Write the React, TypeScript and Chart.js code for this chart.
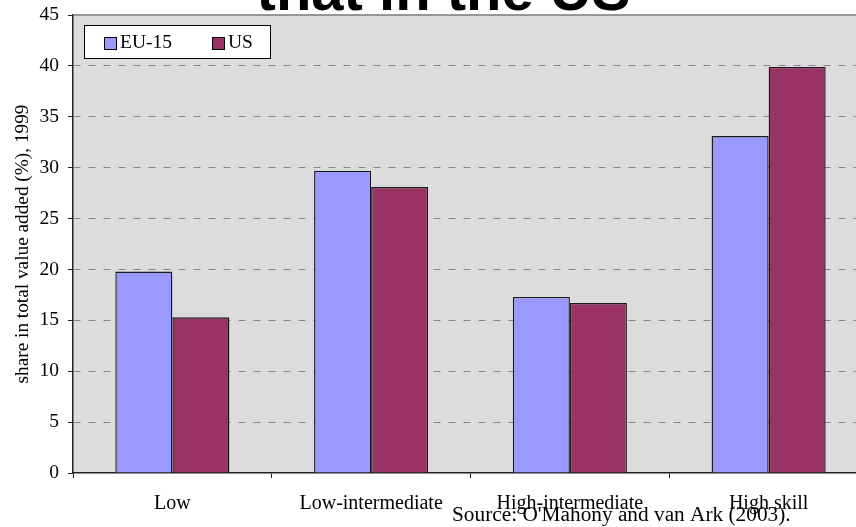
import React, { useEffect, useRef } from "react";
import { Chart, registerables } from "chart.js";

Chart.register(...registerables);

const categories = ["Low", "Low-intermediate", "High-intermediate", "High skill"];
const seriesNames = ["EU-15", "US"];
const euValues = [19.8, 29.7, 17.3, 33.1];
const usValues = [15.3, 28.1, 16.7, 39.9];
const seriesColors = ["#9999FF", "#993366"];
const titleText = "that in the US";
const yAxisTitle = "share in total value added (%), 1999";
const sourceText = "Source: O'Mahony and van Ark (2003).";

const SERIF = "'Liberation Serif', 'Times New Roman', serif";

const decorPlugin = {
  id: "decor",
  beforeDraw(chart: any) {
    const { ctx, chartArea } = chart;
    const { left, top, right, bottom } = chartArea;
    ctx.save();
    ctx.fillStyle = "#ffffff";
    ctx.fillRect(0, 0, chart.width, chart.height);
    ctx.fillStyle = "#dcdcdc";
    ctx.fillRect(left, top, right - left, bottom - top);
    ctx.restore();
  },
  beforeDatasetsDraw(chart: any) {
    const { ctx, chartArea } = chart;
    ctx.save();
    ctx.strokeStyle = "#7a7a7a";
    ctx.lineWidth = 1.5;
    ctx.beginPath();
    ctx.moveTo(chartArea.left, chartArea.top);
    ctx.lineTo(chartArea.right, chartArea.top);
    ctx.stroke();
    ctx.restore();
  },
  afterDraw(chart: any) {
    const { ctx } = chart;
    ctx.save();
    // title (cut at top)
    ctx.fillStyle = "#000";
    ctx.font = "bold 58px 'Liberation Sans', Arial, sans-serif";
    ctx.textAlign = "center";
    ctx.textBaseline = "alphabetic";
    ctx.fillText(titleText, 443.5, 10);

    // legend box
    const lx = 84, ly = 25, lw = 186, lh = 33;
    ctx.fillStyle = "#ffffff";
    ctx.fillRect(lx, ly, lw, lh);
    ctx.strokeStyle = "#000";
    ctx.lineWidth = 1;
    ctx.strokeRect(lx + 0.5, ly + 0.5, lw, lh);
    const ds = chart.data.datasets;
    const itemX = [104, 212];
    ctx.font = "19.5px " + SERIF;
    ctx.textAlign = "left";
    ctx.textBaseline = "middle";
    for (let i = 0; i < ds.length; i++) {
      const x = itemX[i];
      ctx.fillStyle = ds[i].backgroundColor;
      ctx.fillRect(x, 37, 12, 12);
      ctx.strokeStyle = "#000";
      ctx.strokeRect(x + 0.5, 37.5, 12, 12);
      ctx.fillStyle = "#000";
      ctx.fillText(ds[i].label, x + 16, 43);
    }

    // source note
    ctx.font = "21.3px " + SERIF;
    ctx.textAlign = "left";
    ctx.textBaseline = "alphabetic";
    ctx.fillStyle = "#000";
    ctx.fillText(sourceText, 452, 521);
    ctx.restore();
  },
};

export default function App() {
  const ref = useRef<HTMLCanvasElement | null>(null);

  useEffect(() => {
    if (!ref.current) return;
    Chart.defaults.font.family = SERIF;
    const chart = new Chart(ref.current, {
      type: "bar",
      data: {
        labels: categories,
        datasets: [
          {
            label: seriesNames[0],
            data: euValues,
            backgroundColor: seriesColors[0],
            borderColor: "#1a1a1a",
            borderWidth: 1.4,
            categoryPercentage: 0.574,
            barPercentage: 1,
          },
          {
            label: seriesNames[1],
            data: usValues,
            backgroundColor: seriesColors[1],
            borderColor: "#1a1a1a",
            borderWidth: 1.4,
            categoryPercentage: 0.574,
            barPercentage: 1,
          },
        ],
      },
      options: {
        responsive: false,
        animation: false,
        devicePixelRatio: 1,
        layout: { padding: { top: 15, left: 0, right: 0, bottom: 0 } },
        plugins: {
          legend: { display: false },
          title: { display: false },
          tooltip: { enabled: false },
        },
        scales: {
          x: {
            afterFit: (s: any) => {
              s.height = 54;
            },
            grid: {
              offset: true,
              drawOnChartArea: false,
              drawTicks: true,
              tickLength: 5,
              tickColor: "#222",
              tickWidth: 1,
            },
            border: { display: true, color: "#222", width: 1.5 },
            ticks: {
              color: "#000",
              font: { size: 20, family: SERIF },
              padding: 14,
              maxRotation: 0,
              autoSkip: false,
            },
          },
          y: {
            min: 0,
            max: 45,
            afterFit: (s: any) => {
              s.width = 73;
              s.paddingTop = 0;
              s.paddingBottom = 0;
            },
            ticks: {
              stepSize: 5,
              color: "#000",
              font: { size: 19.5, family: SERIF },
              padding: 9,
            },
            grid: {
              color: (c: any) =>
                c.tick && (c.tick.value === 0 || c.tick.value === 45) ? "rgba(0,0,0,0)" : "#858585",
              lineWidth: 1,
              drawTicks: true,
              tickLength: 5,
              tickColor: "#222",
              tickBorderDash: [],
            },
            border: { display: true, color: "#222", width: 1.5, dash: [7, 8] },
            title: {
              display: true,
              text: yAxisTitle,
              color: "#000",
              font: { size: 19.3, family: SERIF },
              padding: { top: 11, bottom: 0 },
            },
          },
        },
      },
      plugins: [decorPlugin],
    });
    return () => chart.destroy();
  }, []);

  return (
    <div
      style={{
        position: "fixed",
        left: 0,
        top: 0,
        width: 856,
        height: 527,
        overflow: "hidden",
        background: "#fff",
      }}
    >
      <canvas ref={ref} width={868} height={527} style={{ display: "block" }} />
    </div>
  );
}
